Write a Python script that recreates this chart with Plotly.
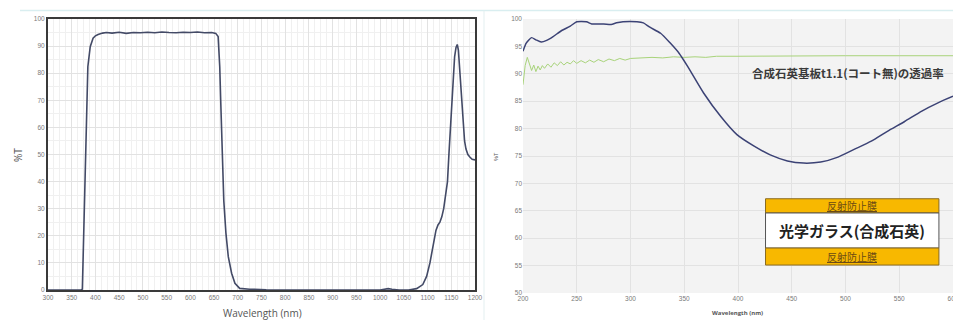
import plotly.graph_objects as go

# ---------------- Left panel data (bandpass filter) ----------------
left_wl = [300, 340, 370, 372.4, 375, 378, 381, 384, 389, 395, 400, 405.5, 415, 423,
           435, 450, 465, 480, 495, 510, 525, 540, 555, 570, 585, 600, 615, 630, 645,
           653.6, 658.6, 662, 664, 667, 670.5, 675, 680, 687, 694, 704, 725, 760,
           800, 900, 1000, 1010, 1017, 1025, 1040, 1060, 1077, 1090, 1098, 1105, 1112,
           1117.7, 1122, 1126, 1130, 1134, 1138, 1142, 1145, 1148.6, 1151.5, 1154.5,
           1157, 1160, 1162.6, 1165, 1168, 1172, 1175, 1178, 1181, 1185, 1189.5, 1194, 1200]
left_t = [0, 0, 0, 0.3, 21, 45.5, 70, 82.4, 89.8, 92.9, 93.8, 94.3, 94.8, 95.0,
          94.8, 95.1, 94.7, 95.0, 94.9, 95.1, 94.9, 95.2, 95.0, 94.9, 95.1, 95.0, 95.2, 94.9, 95.0,
          94.7, 93.5, 82.4, 70, 51.7, 33, 21, 12.3, 6.2, 2.5, 0.6, 0.3, 0.1,
          0, 0, 0, 0.3, 0.5, 0.3, 0, 0, 0.5, 2, 5, 10, 17,
          22, 24, 25, 27, 30, 35, 40, 50, 60, 70, 80,
          86, 89.5, 90.6, 88.5, 80, 70, 60, 55, 52, 50, 49, 48.2, 48]

left_x_ticks = list(range(300, 1201, 50))
left_y_ticks = list(range(0, 101, 10))

# ---------------- Right panel data (AR coated quartz) ----------------
blue_wl = [200, 203, 208, 212, 217, 222, 228, 236, 244, 250, 259, 264, 275, 282, 287,
           293, 306, 312, 318, 328, 337, 345, 353, 368, 384, 399, 415, 430, 446, 461,
           477, 493, 508, 524, 539, 555, 571, 586, 600]
blue_t = [94.1, 95.6, 96.6, 96.2, 95.8, 96.1, 96.8, 97.9, 98.7, 99.5, 99.5, 99.1, 99.1, 99.0, 99.3,
          99.5, 99.5, 99.3, 98.5, 97.4, 95.6, 93.8, 91.4, 86.5, 82.2, 78.9, 76.8, 75.2, 74.1, 73.7,
          73.9, 74.8, 76.2, 77.7, 79.5, 81.3, 83.2, 84.7, 85.9]

green_wl = [200, 202, 204, 206, 208, 210, 212, 214, 216, 218, 220, 223, 226, 229, 232, 235,
            238, 241, 244, 247, 250, 254, 258, 262, 266, 270, 275, 280, 285, 290, 295, 300,
            310, 320, 330, 340, 350, 360, 370, 380, 400, 450, 500, 550, 600]
green_t = [88.0, 91.5, 93.0, 91.8, 90.6, 91.6, 90.4, 91.4, 90.7, 91.5, 91.0, 91.8, 91.2, 92.0,
           91.5, 92.2, 91.6, 92.1, 91.8, 92.4, 91.9, 92.4, 92.0, 92.5, 92.1, 92.6, 92.2, 92.7,
           92.4, 92.8, 92.5, 92.8, 92.9, 93.0, 92.9, 93.1, 93.0, 93.1, 93.0, 93.2, 93.2, 93.3,
           93.3, 93.3, 93.3]

right_x_ticks = list(range(200, 601, 50))
right_y_ticks = list(range(50, 101, 5))

W, H = 953, 320


def px(x):
    return x / W


def py(y):
    return 1 - y / H


fig = go.Figure()
fig.add_trace(go.Scatter(x=left_wl, y=left_t, mode="lines", xaxis="x", yaxis="y",
                         line=dict(color="#434a66", width=1.6), showlegend=False))
fig.add_trace(go.Scatter(x=green_wl, y=green_t, mode="lines", xaxis="x2", yaxis="y2",
                         line=dict(color="#a8d37a", width=1), showlegend=False))
fig.add_trace(go.Scatter(x=blue_wl, y=blue_t, mode="lines", xaxis="x2", yaxis="y2",
                         line=dict(color="#3b4275", width=1.5, shape="spline", smoothing=0.6),
                         showlegend=False))

tickfont = dict(family="Liberation Sans, sans-serif", size=6.5, color="#7a7a7a")

fig.update_layout(
    width=W, height=H,
    margin=dict(l=0, r=0, t=0, b=0, autoexpand=False),
    paper_bgcolor="white",
    plot_bgcolor="white",
    xaxis=dict(domain=[px(48), px(475)], range=[300, 1200], tickvals=left_x_ticks,
               tickfont=tickfont, showgrid=True, gridcolor="#e2e2e2", gridwidth=1,
               minor=dict(dtick=12.5, showgrid=True, gridcolor="#f0f0f0"),
               showline=True, mirror=True, linecolor="#3a3a3a", linewidth=2,
               zeroline=False, ticks="", anchor="y", automargin=False,
               ticklabeloverflow="allow"),
    yaxis=dict(domain=[py(290), py(19)], range=[0, 100], tickvals=left_y_ticks,
               tickfont=tickfont, showgrid=True, gridcolor="#e2e2e2",
               minor=dict(dtick=5, showgrid=True, gridcolor="#f0f0f0"),
               showline=True, mirror=True, linecolor="#3a3a3a", linewidth=2,
               zeroline=False, ticks="", anchor="x", automargin=False),
    xaxis2=dict(domain=[px(523), 1.0], range=[200, 600], tickvals=right_x_ticks,
                tickfont=tickfont, showgrid=True, gridcolor="#e2e2e2",
                showline=False, zeroline=False, ticks="", anchor="y2", automargin=False,
                ticklabeloverflow="allow"),
    yaxis2=dict(domain=[py(293), py(19)], range=[50, 100], tickvals=right_y_ticks,
                tickfont=tickfont, showgrid=True, gridcolor="#e2e2e2",
                showline=False, zeroline=False, ticks="", anchor="x2", automargin=False),
)

# right plot background
fig.add_shape(type="rect", xref="x2 domain", yref="y2 domain", x0=0, x1=1, y0=0, y1=1,
              fillcolor="#f3f3f3", line=dict(width=0), layer="below")

# faint screenshot frame lines
fig.add_shape(type="line", xref="paper", yref="paper", x0=px(20), x1=1, y0=py(10.5), y1=py(10.5),
              line=dict(color="#d9eef0", width=1.5))
fig.add_shape(type="line", xref="paper", yref="paper", x0=px(484), x1=px(484), y0=0, y1=py(10.5),
              line=dict(color="#e3eff0", width=1))

# coating diagram (in right-panel data coordinates)
orange = "#f8b800"
fig.add_shape(type="rect", xref="x2", yref="y2", x0=425.6, x1=586.9, y0=64.6, y1=67.2,
              fillcolor=orange, line=dict(color="#8a6a20", width=1))
fig.add_shape(type="rect", xref="x2", yref="y2", x0=425.6, x1=586.9, y0=58.2, y1=64.6,
              fillcolor="white", line=dict(color="#555", width=1))
fig.add_shape(type="rect", xref="x2", yref="y2", x0=425.6, x1=586.9, y0=55.1, y1=58.2,
              fillcolor=orange, line=dict(color="#8a6a20", width=1))

cjk = "Noto Sans CJK JP"
ann = [
    dict(x=506, y=65.9, xref="x2", yref="y2",
         text='<span style="text-decoration:underline">反射防止膜</span>',
         font=dict(family=cjk, size=10, color="#6b4a14")),
    dict(x=506, y=61.4, xref="x2", yref="y2", text="<b>光学ガラス(合成石英)</b>",
         font=dict(family=cjk, size=15, color="#222")),
    dict(x=506, y=56.65, xref="x2", yref="y2",
         text='<span style="text-decoration:underline">反射防止膜</span>',
         font=dict(family=cjk, size=10, color="#6b4a14")),
    dict(x=px(848), y=py(73), xref="paper", yref="paper",
         text="<b>合成石英基板t1.1(コート無)の透過率</b>",
         font=dict(family=cjk, size=11.5, color="#3a3a3a")),
    dict(x=px(18), y=py(155), xref="paper", yref="paper", text="%T", textangle=-90,
         font=dict(family="Open Sans, sans-serif", size=10, color="#555")),
    dict(x=px(262), y=py(313), xref="paper", yref="paper", text="Wavelength (nm)",
         font=dict(family="Open Sans, sans-serif", size=10, color="#555")),
    dict(x=px(496), y=py(157), xref="paper", yref="paper", text="%T", textangle=-90,
         font=dict(family="Open Sans, sans-serif", size=6, color="#555")),
    dict(x=px(737), y=py(313), xref="paper", yref="paper", text="<b>Wavelength (nm)</b>",
         font=dict(family="Open Sans, sans-serif", size=6, color="#555")),
]
for a in ann:
    a.setdefault("showarrow", False)
    a.setdefault("xanchor", "center")
    a.setdefault("yanchor", "middle")
    fig.add_annotation(**a)

# remove the default page margin so the figure fills the window exactly
fig.write_html("out.html", config={"displayModeBar": False},
               post_script="document.body.style.margin='0';document.body.style.overflow='hidden';")
